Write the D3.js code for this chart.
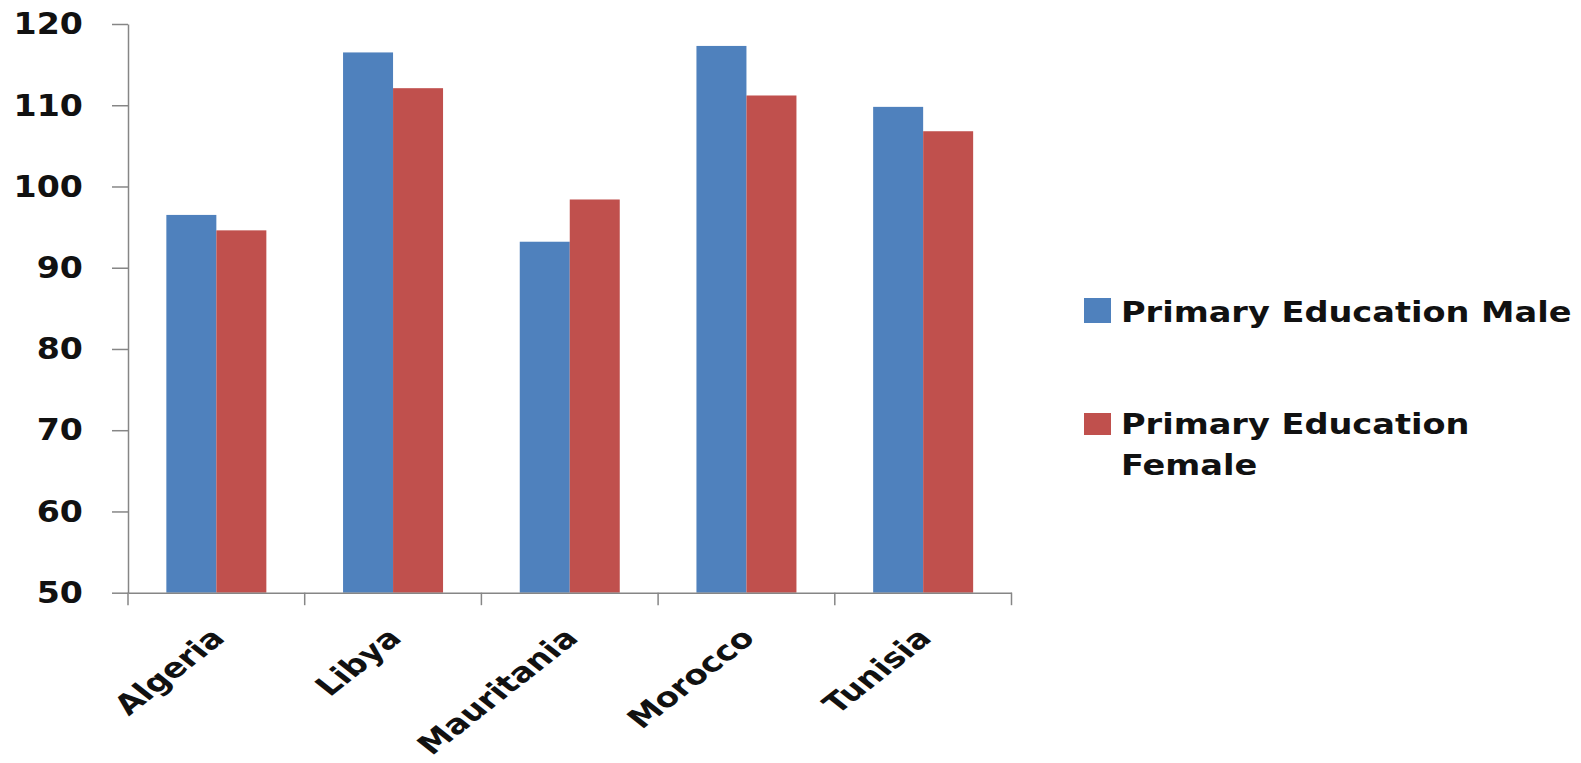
<!DOCTYPE html>
<html><head><meta charset="utf-8">
<script src="https://cdn.jsdelivr.net/npm/d3@7"></script>
<style>html,body{margin:0;padding:0;background:#fff;}svg{display:block;}</style>
</head><body>
<svg id="chart" width="1581" height="763"></svg>
<script>
const categories = ["Algeria", "Libya", "Mauritania", "Morocco", "Tunisia"];
const seriesNames = ["Primary Education Male", "Primary Education Female"];
const maleValues = [96.5, 116.5, 93.2, 117.3, 109.8];
const femaleValues = [94.6, 112.1, 98.4, 111.2, 106.8];
const yTicks = [50, 60, 70, 80, 90, 100, 110, 120];
const colors = ["#4F81BD", "#C0504D"];

const svg = d3.select("#chart");
const plotLeft = 128, plotRight = 1011.5, plotTop = 24, plotBottom = 592.7;
const stretch = 1.2;      // horizontal stretch of the source legend text
const labelStretch = 1.27; // horizontal stretch of the category labels

const y = d3.scaleLinear().domain([50, 120]).range([plotBottom, plotTop]);
const x = d3.scaleBand().domain(categories).range([plotLeft, plotRight]).padding(0);
const x1 = d3.scaleBand().domain(seriesNames).range([0, x.bandwidth()]).paddingInner(0).paddingOuter(0.767);

const data = categories.map((c, i) => ({cat: c, vals: [maleValues[i], femaleValues[i]]}));

// bars
const g = svg.append("g");
data.forEach(d => {
  d.vals.forEach((v, j) => {
    g.append("rect")
      .attr("x", x(d.cat) + x1(seriesNames[j]))
      .attr("y", y(v))
      .attr("width", x1.bandwidth())
      .attr("height", y(50) - y(v))
      .attr("fill", colors[j]);
  });
});

// y axis
const yAxis = d3.axisLeft(y).tickValues(yTicks).tickSize(16).tickSizeOuter(0).tickPadding(29);
const ya = svg.append("g").attr("transform", `translate(${plotLeft},0)`).call(yAxis);
ya.select(".domain").attr("stroke", "#868686").attr("stroke-width", 1.5);
ya.selectAll(".tick line").attr("stroke", "#868686").attr("stroke-width", 1.5);
ya.selectAll(".tick text").attr("font-family", "DejaVu Sans").attr("font-weight", "bold")
  .attr("font-size", 30.5).attr("fill", "#111")
  .attr("x", 0).attr("transform", "translate(-45,0) scale(1.09,1)");

// x axis
const xa = svg.append("g").attr("transform", `translate(0,${plotBottom})`).call(d3.axisBottom(x).tickSize(0).tickFormat(""));
xa.select(".domain").attr("stroke", "#868686").attr("stroke-width", 1.5);
const bounds = categories.map(c => x(c)).concat([x.range()[1]]);
xa.selectAll(".bt").data(bounds).enter().append("line")
  .attr("x1", d => d).attr("x2", d => d).attr("y1", 0).attr("y2", 12.5)
  .attr("stroke", "#868686").attr("stroke-width", 1.5);

// x labels
svg.append("g").selectAll("text").data(categories).enter().append("text")
  .attr("transform", d => `translate(${x(d) + x.bandwidth() / 2 + 10},${plotBottom + 47}) scale(${labelStretch},1) rotate(-45)`)
  .attr("text-anchor", "end")
  .attr("font-family", "DejaVu Sans").attr("font-weight", "bold").attr("font-size", 27)
  .attr("fill", "#111")
  .text(d => d);

// legend
const lg = svg.append("g");
const fs = 28;
lg.append("rect").attr("x", 1084).attr("y", 298).attr("width", 27).attr("height", 25).attr("fill", colors[0]);
lg.append("text").attr("transform", `translate(1121,321.7) scale(${stretch},1)`)
  .attr("font-family", "DejaVu Sans").attr("font-weight", "bold")
  .attr("font-size", fs).attr("fill", "#111").text(seriesNames[0]);
lg.append("rect").attr("x", 1084).attr("y", 413).attr("width", 27).attr("height", 22).attr("fill", colors[1]);
const t2 = lg.append("text").attr("transform", `translate(1121,434) scale(${stretch},1)`)
  .attr("font-family", "DejaVu Sans").attr("font-weight", "bold")
  .attr("font-size", fs).attr("fill", "#111");
t2.append("tspan").attr("x", 0).attr("y", 0).text("Primary Education");
t2.append("tspan").attr("x", 0).attr("y", 41).text("Female");
</script>
</body></html>
